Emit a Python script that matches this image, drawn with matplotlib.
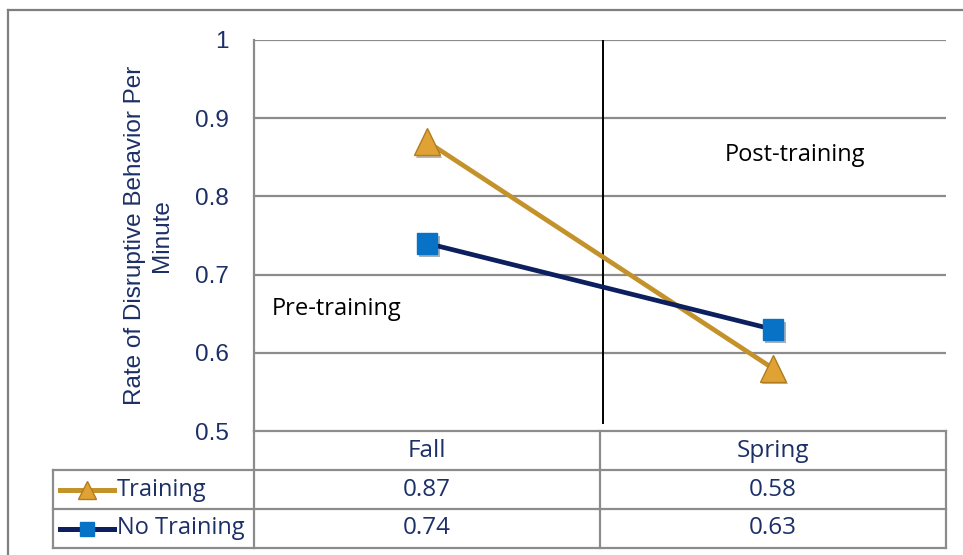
import numpy as np
import matplotlib.pyplot as plt
import matplotlib.patheffects as pe
from matplotlib.lines import Line2D

# data
seasons = ['Fall', 'Spring']
training = [0.87, 0.58]
no_training = [0.74, 0.63]
series_names = ['Training', 'No Training']
y_ticks = [0.5, 0.6, 0.7, 0.8, 0.9, 1.0]
y_tick_labels = ['0.5', '0.6', '0.7', '0.8', '0.9', '1']

navy_text = '#1c2f66'
gold_line = '#c4922a'
gold_marker = '#e0a234'
navy_line = '#0c1f5e'
blue_marker = '#0872c6'
grid_gray = '#8c8c8c'
tick_font = 'Liberation Sans'
table_font = 'Open Sans'

W, H = 963, 555
fig = plt.figure(figsize=(W / 100, H / 100), dpi=100)
ax = fig.add_axes([254 / W, 1 - 431 / H, (946 - 254) / W, (431 - 40) / H])

x = np.arange(len(seasons))
styles = [
    dict(color=gold_line, marker='^', mfc=gold_marker, mec='#b07d1f', ms=19),
    dict(color=navy_line, marker='s', mfc=blue_marker, mec=blue_marker, ms=15),
]
for vals, st in zip([training, no_training], styles):
    ax.plot(x, vals, color=st['color'], lw=3.4, zorder=3)
    ax.plot(x, vals, ls='none', marker=st['marker'], mfc=st['mfc'], mec=st['mec'],
            ms=st['ms'], zorder=4,
            path_effects=[pe.SimplePatchShadow(offset=(1.5, -2), alpha=0.35), pe.Normal()])

ax.set_xlim(-0.5, 1.5)
ax.set_ylim(0.5, 1.0)
ax.set_yticks(y_ticks)
ax.set_yticklabels(y_tick_labels, fontfamily=tick_font, fontsize=17.5, color=navy_text)
ax.set_xticks([])
ax.tick_params(axis='y', length=0, pad=18)
for y in y_ticks[1:]:
    ax.axhline(y, color=grid_gray, lw=1.6, zorder=1)
for s in ['top', 'right', 'bottom']:
    ax.spines[s].set_visible(False)
ax.spines['left'].set_color(grid_gray)
ax.spines['left'].set_linewidth(1.6)

ax.set_ylabel('Rate of Disruptive Behavior Per\nMinute', fontfamily=tick_font,
              fontsize=17.5, color=navy_text, linespacing=1.3)
ax.yaxis.set_label_coords(-0.117, 0.5)

# divider between pre and post
ax.plot([0.51, 0.51], [0.51, 1.0], color='black', lw=1.4, zorder=2)
ax.text(1.064, 0.853, 'Post-training', ha='center', va='center',
        fontfamily=table_font, fontsize=17, color='black')
ax.text(-0.448, 0.656, 'Pre-training', ha='left', va='center',
        fontfamily=table_font, fontsize=17, color='black')

# data table under the axes (axes coordinates)
row_h = 39 / 391
left_col = (53 - 254) / 692
tb = dict(transform=ax.transAxes, clip_on=False, color=grid_gray, lw=1.6)
# horizontal lines
ax.plot([0, 1], [0, 0], **tb)
for k in [1, 2, 3]:
    ax.plot([left_col, 1], [-k * row_h, -k * row_h], **tb)
# vertical lines
ax.plot([0, 0], [0, -3 * row_h], **tb)
ax.plot([0.5, 0.5], [0, -3 * row_h], **tb)
ax.plot([1, 1], [0, -3 * row_h], **tb)
ax.plot([left_col, left_col], [-row_h, -3 * row_h], **tb)

txt = dict(transform=ax.transAxes, ha='center', va='center', fontfamily=table_font,
           fontsize=17.5, color=navy_text)
for i, s in enumerate(seasons):
    ax.text(0.25 + 0.5 * i, -0.52 * row_h, s, **txt)
for r, (name, vals, st) in enumerate(zip(series_names, [training, no_training], styles)):
    yc = -(r + 1.5) * row_h
    for i, v in enumerate(vals):
        ax.text(0.25 + 0.5 * i, yc, f'{v:.2f}', **txt)
    lx0, lx1 = (60 - 254) / 692, (114 - 254) / 692
    ax.add_line(Line2D([lx0, lx1], [yc, yc], transform=ax.transAxes, clip_on=False,
                       color=st['color'], lw=3.6))
    ax.add_line(Line2D([(lx0 + lx1) / 2], [yc], transform=ax.transAxes, clip_on=False,
                       marker=st['marker'], mfc=st['mfc'], mec=st['mec'],
                       ms=st['ms'] * 0.7, ls='none'))
    ax.text((117 - 254) / 692, yc, name, transform=ax.transAxes, ha='left', va='center',
            fontfamily=table_font, fontsize=17, color=navy_text)

# chart area frame
fig.add_artist(Line2D([8 / W, 1], [1 - 10 / H, 1 - 10 / H], color='#7f7f7f', lw=1.6))
fig.add_artist(Line2D([8 / W, 8 / W], [0, 1 - 10 / H], color='#7f7f7f', lw=1.6))

fig.savefig('out.png', dpi=100, facecolor='white')
